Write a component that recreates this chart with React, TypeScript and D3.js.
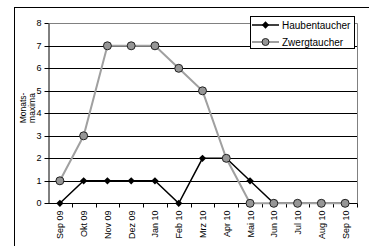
import React, { useEffect, useRef } from 'react';
import * as d3 from 'd3';

const months = ['Sep 09', 'Okt 09', 'Nov 09', 'Dez 09', 'Jan 10', 'Feb 10', 'Mrz 10', 'Apr 10', 'Mai 10', 'Jun 10', 'Jul 10', 'Aug 10', 'Sep 10'];
const haubentaucher = [0, 1, 1, 1, 1, 0, 2, 2, 1, 0, 0, 0, 0];
const zwergtaucher = [1, 3, 7, 7, 7, 6, 5, 2, 0, 0, 0, 0, 0];
const yTicks = [0, 1, 2, 3, 4, 5, 6, 7, 8];

const FONT = '"Liberation Sans", Arial, sans-serif';

export default function App() {
  const svgRef = useRef<SVGSVGElement>(null);

  useEffect(() => {
    document.body.style.margin = '0';
    if (!svgRef.current) return;
    const svg = d3.select(svgRef.current);
    svg.selectAll('*').remove();

    const left = 48, right = 357, top = 23.3, bottom = 203.3;

    const x = d3.scaleBand<string>().domain(months).range([left, right]);
    const y = d3.scaleLinear().domain([0, 8]).range([bottom, top]);
    const cx = (m: string) => (x(m) as number) + x.bandwidth() / 2;

    // outer chart frame
    svg.append('rect')
      .attr('x', 14.5).attr('y', 7.5)
      .attr('width', 420).attr('height', 300)
      .attr('fill', 'white').attr('stroke', '#000').attr('stroke-width', 1);

    // gridlines
    svg.append('g').selectAll('line')
      .data(yTicks.filter(t => t > 0 && t < 8))
      .join('line')
      .attr('x1', left).attr('x2', right)
      .attr('y1', d => Math.round(y(d)) + 0.5).attr('y2', d => Math.round(y(d)) + 0.5)
      .attr('stroke', '#000').attr('stroke-width', 1);

    // plot area border (gray)
    svg.append('path')
      .attr('d', `M${left},${Math.round(top) + 0.5}H${right + 0.5}V${Math.round(bottom) + 0.5}`)
      .attr('fill', 'none').attr('stroke', '#808080').attr('stroke-width', 1);

    // y axis
    const yAxis = svg.append('g')
      .attr('transform', `translate(${left + 0.5},0)`)
      .call(d3.axisLeft(y).tickValues(yTicks).tickSize(4).tickSizeOuter(0).tickPadding(3));
    yAxis.select('.domain').attr('stroke', '#000');
    yAxis.selectAll('.tick line').attr('stroke', '#000');
    yAxis.selectAll('.tick').attr('transform', (d: any) => `translate(0,${Math.round(y(d)) + 0.5})`);
    yAxis.selectAll('text').attr('font-family', FONT).attr('font-size', 9).attr('fill', '#000');

    // x axis
    const xAxis = svg.append('g').attr('transform', `translate(0,${Math.round(bottom) + 0.5})`);
    xAxis.append('line').attr('x1', left).attr('x2', right + 0.5).attr('stroke', '#000');
    xAxis.selectAll('line.tk')
      .data(months.slice(1).concat(['__end']))
      .join('line')
      .attr('class', 'tk')
      .attr('x1', (d, i) => Math.round(left + (i + 1) * x.bandwidth()) + 0.5)
      .attr('x2', (d, i) => Math.round(left + (i + 1) * x.bandwidth()) + 0.5)
      .attr('y1', 0).attr('y2', 4)
      .attr('stroke', '#000');
    xAxis.selectAll('text')
      .data(months)
      .join('text')
      .attr('transform', d => `translate(${cx(d) + 3.5},7) rotate(-90)`)
      .attr('text-anchor', 'end')
      .attr('font-family', FONT).attr('font-size', 9)
      .text(d => d);

    // y title
    svg.append('text')
      .attr('transform', `translate(25.5,108) rotate(-90)`)
      .attr('text-anchor', 'middle')
      .attr('font-family', FONT).attr('font-size', 8.5)
      .text('Monats-');
    svg.append('text')
      .attr('transform', `translate(34.5,108) rotate(-90)`)
      .attr('text-anchor', 'middle')
      .attr('font-family', FONT).attr('font-size', 8.5)
      .text('maxima');

    const line = d3.line<number>().x((d, i) => cx(months[i])).y(d => y(d));
    const diamond = d3.symbol().type(d3.symbolDiamond2).size(34);

    // Haubentaucher
    svg.append('path').datum(haubentaucher)
      .attr('d', line).attr('fill', 'none').attr('stroke', '#000').attr('stroke-width', 1.5);
    svg.append('g').selectAll('path')
      .data(haubentaucher)
      .join('path')
      .attr('d', diamond)
      .attr('transform', (d, i) => `translate(${cx(months[i])},${y(d)})`)
      .attr('fill', '#000');

    // Zwergtaucher
    svg.append('path').datum(zwergtaucher)
      .attr('d', line).attr('fill', 'none').attr('stroke', '#a0a0a0').attr('stroke-width', 2);
    svg.append('g').selectAll('circle')
      .data(zwergtaucher)
      .join('circle')
      .attr('cx', (d, i) => cx(months[i])).attr('cy', d => y(d))
      .attr('r', 4)
      .attr('fill', '#969696').attr('stroke', '#222').attr('stroke-width', 1);

    // legend
    const lg = svg.append('g');
    lg.append('rect').attr('x', 250.5).attr('y', 16.5).attr('width', 104).attr('height', 32)
      .attr('fill', 'white').attr('stroke', '#000');
    const rows = [
      { name: 'Haubentaucher', color: '#000', w: 1.5, yy: 25 },
      { name: 'Zwergtaucher', color: '#a0a0a0', w: 2, yy: 42 },
    ];
    rows.forEach((r, i) => {
      lg.append('line').attr('x1', 252).attr('x2', 279).attr('y1', r.yy).attr('y2', r.yy)
        .attr('stroke', r.color).attr('stroke-width', r.w);
      if (i === 0) {
        lg.append('path').attr('d', diamond).attr('transform', `translate(265.5,${r.yy})`).attr('fill', '#000');
      } else {
        lg.append('circle').attr('cx', 265.5).attr('cy', r.yy).attr('r', 3.5)
          .attr('fill', '#969696').attr('stroke', '#222');
      }
      lg.append('text').attr('x', 282).attr('y', r.yy + 3.5)
        .attr('font-family', FONT).attr('font-size', 10).text(r.name);
    });
  }, []);

  return <svg ref={svgRef} width={369} height={246} style={{ display: 'block', background: 'white' }} />;
}
